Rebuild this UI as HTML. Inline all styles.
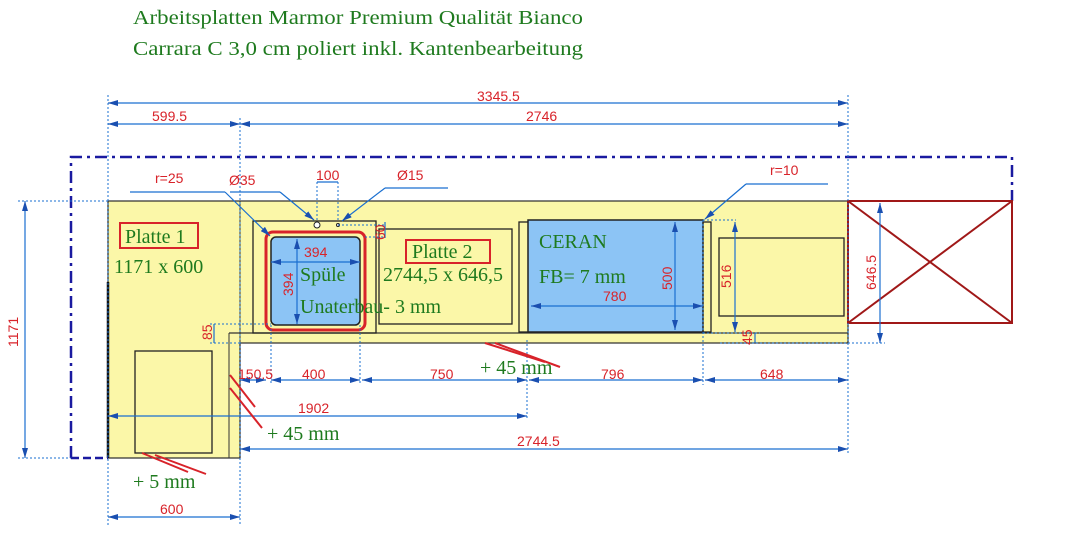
<!DOCTYPE html>
<html><head><meta charset="utf-8"><style>
html,body{margin:0;padding:0;background:#fff;}
svg{display:block;}
.r{fill:#d8232a;font-family:"Liberation Sans",sans-serif;font-size:14px;}
.g{fill:#1e7a1e;font-family:"Liberation Serif",serif;font-size:20px;}
.d{stroke:#1a6fd0;stroke-width:1.2;fill:none;}
.dt{stroke:#1a6fd0;stroke-width:1;stroke-dasharray:2 2;fill:none;}
.k{stroke:#222;stroke-width:1.3;fill:none;}
.h{stroke:#d8232a;stroke-width:2;}
</style></head><body>
<svg width="1066" height="555" viewBox="0 0 1066 555" xmlns="http://www.w3.org/2000/svg">
<defs>
<marker id="a" viewBox="0 0 10 6" refX="10" refY="3" markerWidth="10" markerHeight="6" orient="auto-start-reverse" markerUnits="userSpaceOnUse"><path d="M0,0L10,3L0,6z" fill="#1a4fb0"/></marker>
</defs>
<text class="g" x="133" y="24" textLength="450" lengthAdjust="spacingAndGlyphs">Arbeitsplatten Marmor Premium Qualität Bianco</text>
<text class="g" x="133" y="55" textLength="450" lengthAdjust="spacingAndGlyphs">Carrara C 3,0 cm poliert inkl. Kantenbearbeitung</text>

<path d="M108,201 L848,201 L848,343 L240,343 L240,458 L108,458 Z" fill="#fbf7a8" stroke="#333" stroke-width="1.3"/>
<line x1="240" y1="201" x2="240" y2="343" stroke="#333" stroke-width="1"/>
<line x1="229" y1="333" x2="848" y2="333" stroke="#333" stroke-width="1.3"/>
<line x1="229" y1="333" x2="229" y2="458" stroke="#333" stroke-width="1"/>
<line x1="108" y1="282" x2="108" y2="458" stroke="#111" stroke-width="2.5"/>
<rect x="135" y="351" width="77" height="102" class="k"/>

<path d="M71,458 L71,157 L1012,157 L1012,201" stroke="#1a1aa0" stroke-width="2.5" fill="none" stroke-dasharray="12 5 3 5"/>
<line x1="71" y1="458" x2="108" y2="458" stroke="#1a1aa0" stroke-width="2.5" stroke-dasharray="8 4"/>

<rect x="253" y="221" width="123" height="112" class="k"/>
<rect x="266" y="232" width="99" height="98" rx="7" fill="none" stroke="#d8232a" stroke-width="3"/>
<rect x="271" y="237" width="89" height="88" rx="5" fill="#8cc4f5" stroke="#222" stroke-width="1.5"/>
<circle cx="317" cy="225" r="3" fill="#fff" stroke="#222"/>
<circle cx="338" cy="225" r="1.5" fill="#fff" stroke="#222"/>
<rect x="379" y="229" width="133" height="95" class="k"/>
<rect x="519" y="222" width="192" height="110" class="k"/>
<rect x="528" y="220" width="175" height="112" fill="#8cc4f5" stroke="#222" stroke-width="1.5"/>
<rect x="719" y="238" width="125" height="78" class="k"/>
<rect x="848" y="201" width="164" height="122" fill="none" stroke="#a01818" stroke-width="2"/>
<line x1="848" y1="201" x2="1012" y2="323" stroke="#a01818" stroke-width="2"/>
<line x1="1012" y1="201" x2="848" y2="323" stroke="#a01818" stroke-width="2"/>

<g class="dt">
<line x1="108" y1="95" x2="108" y2="525"/><line x1="240" y1="118" x2="240" y2="525"/>
<line x1="848" y1="95" x2="848" y2="455"/><line x1="18" y1="201" x2="108" y2="201"/>
<line x1="18" y1="458" x2="71" y2="458"/><line x1="527" y1="340" x2="527" y2="420"/>
<line x1="703" y1="220" x2="703" y2="385"/><line x1="271" y1="325" x2="271" y2="383"/>
<line x1="360" y1="325" x2="360" y2="383"/><line x1="848" y1="343" x2="885" y2="343"/>
<line x1="210" y1="324" x2="271" y2="324"/><line x1="210" y1="343" x2="240" y2="343"/>
<line x1="317" y1="182" x2="317" y2="222"/><line x1="338" y1="182" x2="338" y2="222"/>
<line x1="338" y1="225" x2="385" y2="225"/><line x1="365" y1="237" x2="385" y2="237"/>
<line x1="703" y1="220" x2="736" y2="220"/><line x1="703" y1="333" x2="760" y2="333"/>
<line x1="720" y1="343" x2="848" y2="343"/>
</g>

<g class="d" marker-start="url(#a)" marker-end="url(#a)">
<line x1="108" y1="103" x2="848" y2="103"/>
<line x1="108" y1="124" x2="240" y2="124"/><line x1="240" y1="124" x2="848" y2="124"/>
<line x1="240" y1="380" x2="266" y2="380"/><line x1="271" y1="380" x2="360" y2="380"/>
<line x1="362" y1="380" x2="527" y2="380"/><line x1="529" y1="380" x2="703" y2="380"/>
<line x1="705" y1="380" x2="848" y2="380"/>
<line x1="108" y1="416" x2="527" y2="416"/>
<line x1="240" y1="449" x2="848" y2="449"/>
<line x1="108" y1="517" x2="240" y2="517"/>
<line x1="25" y1="201" x2="25" y2="458"/>
<line x1="880" y1="203" x2="880" y2="343"/>
<line x1="271" y1="262" x2="360" y2="262"/>
<line x1="297" y1="239" x2="297" y2="324"/>
<line x1="531" y1="306" x2="703" y2="306"/>
<line x1="675" y1="222" x2="675" y2="330"/>
<line x1="735" y1="222" x2="735" y2="332"/>
</g>
<g class="d">
<line x1="317" y1="182" x2="338" y2="182"/>
<line x1="130" y1="192" x2="225" y2="192"/><line x1="225" y1="192" x2="270" y2="236" marker-end="url(#a)"/>
<line x1="230" y1="192" x2="280" y2="192"/><line x1="280" y1="192" x2="314" y2="220" marker-end="url(#a)"/>
<line x1="385" y1="188" x2="448" y2="188"/><line x1="385" y1="188" x2="342" y2="221" marker-end="url(#a)"/>
<line x1="746" y1="184" x2="828" y2="184"/><line x1="746" y1="184" x2="705" y2="219" marker-end="url(#a)"/>
<line x1="385" y1="222" x2="385" y2="238"/><line x1="214" y1="324" x2="214" y2="343"/><line x1="755" y1="333" x2="755" y2="343"/>
</g>

<text class="r" x="477" y="101">3345.5</text>
<text class="r" x="152" y="121">599.5</text>
<text class="r" x="526" y="121">2746</text>
<text class="r" x="155" y="183">r=25</text>
<text class="r" x="229" y="185">Ø35</text>
<text class="r" x="316" y="180">100</text>
<text class="r" x="397" y="180">Ø15</text>
<text class="r" x="770" y="175">r=10</text>
<text class="r" x="304" y="257">394</text>
<text class="r" transform="translate(293,296) rotate(-90)">394</text>
<text class="r" transform="translate(385,240) rotate(-90)" font-size="12">60</text>
<text class="r" transform="translate(212,340) rotate(-90)" font-size="12">85</text>
<text class="r" transform="translate(672,290) rotate(-90)">500</text>
<text class="r" transform="translate(731,288) rotate(-90)">516</text>
<text class="r" transform="translate(752,345) rotate(-90)" font-size="12">45</text>
<text class="r" transform="translate(876,290) rotate(-90)">646.5</text>
<text class="r" transform="translate(18,347) rotate(-90)">1171</text>
<text class="r" x="603" y="301">780</text>
<text class="r" x="238" y="379">150.5</text>
<text class="r" x="302" y="379">400</text>
<text class="r" x="430" y="379">750</text>
<text class="r" x="601" y="379">796</text>
<text class="r" x="760" y="379">648</text>
<text class="r" x="298" y="413">1902</text>
<text class="r" x="517" y="446">2744.5</text>
<text class="r" x="160" y="514">600</text>

<rect x="120" y="223" width="78" height="25" fill="none" stroke="#d8232a" stroke-width="2"/>
<text class="g" x="125" y="243">Platte 1</text>
<text class="g" x="114" y="273">1171 x 600</text>
<rect x="406" y="240" width="84" height="23" fill="none" stroke="#d8232a" stroke-width="2"/>
<text class="g" x="412" y="258">Platte 2</text>
<text class="g" x="383" y="281">2744,5 x 646,5</text>
<text class="g" x="300" y="281">Spüle</text>
<text class="g" x="300" y="313">Unaterbau- 3 mm</text>
<text class="g" x="539" y="248">CERAN</text>
<text class="g" x="539" y="283">FB= 7 mm</text>
<text class="g" x="480" y="374">+ 45 mm</text>
<text class="g" x="267" y="440">+ 45 mm</text>
<text class="g" x="133" y="488">+ 5 mm</text>

<line class="h" x1="485" y1="343" x2="545" y2="362"/><line class="h" x1="495" y1="343" x2="560" y2="367"/>
<line class="h" x1="230" y1="375" x2="255" y2="407"/><line class="h" x1="230" y1="388" x2="262" y2="428"/>
<line class="h" x1="142" y1="453" x2="188" y2="472"/><line class="h" x1="155" y1="455" x2="206" y2="474"/>
</svg>
</body></html>
